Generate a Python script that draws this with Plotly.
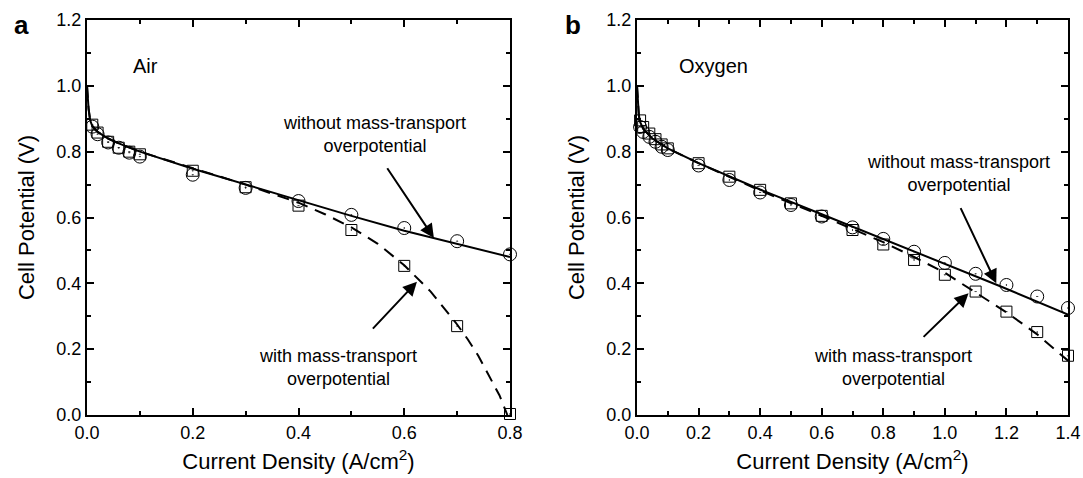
import plotly.graph_objects as go

# ---------------- data: panel a (Air) ----------------
a_pts_x = [0.01, 0.02, 0.04, 0.06, 0.08, 0.1, 0.2, 0.3, 0.4, 0.5, 0.6, 0.7, 0.8]
a_circ_y = [0.876, 0.853, 0.828, 0.812, 0.797, 0.785, 0.730, 0.690, 0.650, 0.608, 0.568, 0.528, 0.488]
a_sq_y = [0.882, 0.858, 0.830, 0.812, 0.800, 0.792, 0.742, 0.692, 0.636, 0.562, 0.453, 0.270, 0.003]

a_solid_x = [0, 0.003, 0.006, 0.01, 0.02, 0.04, 0.06, 0.1, 0.2, 0.3, 0.4, 0.5, 0.6, 0.7, 0.8]
a_solid_y = [1.0, 0.93, 0.895, 0.878, 0.86, 0.84, 0.825, 0.80, 0.748, 0.70, 0.652, 0.605, 0.56, 0.52, 0.48]

a_dash_x = [0, 0.003, 0.006, 0.01, 0.02, 0.04, 0.06, 0.1, 0.2, 0.3, 0.4, 0.45, 0.5, 0.55,
            0.6, 0.65, 0.7, 0.72, 0.74, 0.76, 0.78, 0.795]
a_dash_y = [1.0, 0.93, 0.895, 0.878, 0.86, 0.84, 0.825, 0.80, 0.75, 0.70, 0.645, 0.61, 0.57, 0.52,
            0.455, 0.375, 0.275, 0.23, 0.18, 0.12, 0.06, 0.0]

# ---------------- data: panel b (Oxygen) ----------------
b_pts_x = [0.01, 0.02, 0.04, 0.06, 0.08, 0.1, 0.2, 0.3, 0.4, 0.5, 0.6, 0.7, 0.8, 0.9, 1.0,
           1.1, 1.2, 1.3, 1.4]
b_circ_y = [0.875, 0.86, 0.845, 0.83, 0.815, 0.805, 0.758, 0.714, 0.676, 0.638, 0.603, 0.570,
            0.535, 0.496, 0.462, 0.429, 0.395, 0.360, 0.325]
b_sq_y = [0.895, 0.875, 0.855, 0.838, 0.822, 0.81, 0.765, 0.724, 0.684, 0.643, 0.605, 0.562,
          0.518, 0.471, 0.426, 0.375, 0.314, 0.252, 0.18]

b_solid_x = [0, 0.003, 0.006, 0.01, 0.02, 0.05, 0.1, 0.2, 0.4, 0.6, 0.8, 1.0, 1.17, 1.4]
b_solid_y = [1.0, 0.94, 0.91, 0.89, 0.87, 0.84, 0.81, 0.765, 0.685, 0.61, 0.535, 0.46, 0.395, 0.305]

b_dash_x = [0, 0.003, 0.006, 0.01, 0.02, 0.05, 0.1, 0.2, 0.4, 0.6, 0.8, 0.9, 1.0, 1.1, 1.2, 1.3, 1.4]
b_dash_y = [1.0, 0.94, 0.91, 0.89, 0.87, 0.84, 0.81, 0.765, 0.682, 0.605, 0.525, 0.48, 0.432,
            0.372, 0.312, 0.245, 0.165]

x_title = "Current Density (A/cm<sup>2</sup>)"
y_title = "Cell Potential (V)"

FONT = "Liberation Sans, Arial, sans-serif"
BLACK = "#000000"

fig = go.Figure()


def add_panel(xa, ya, px, cy, sy, sx, syy, dx, dyy):
    fig.add_trace(go.Scatter(x=sx, y=syy, mode="lines", line=dict(color=BLACK, width=2),
                             xaxis=xa, yaxis=ya, showlegend=False, hoverinfo="skip"))
    fig.add_trace(go.Scatter(x=dx, y=dyy, mode="lines",
                             line=dict(color=BLACK, width=2, dash="12px,8px"),
                             xaxis=xa, yaxis=ya, showlegend=False, hoverinfo="skip"))
    fig.add_trace(go.Scatter(x=px, y=cy, mode="markers",
                             marker=dict(symbol="circle-open-dot", size=13,
                                         color=BLACK, line=dict(width=1, color=BLACK)),
                             xaxis=xa, yaxis=ya, showlegend=False, cliponaxis=False))
    fig.add_trace(go.Scatter(x=px, y=sy, mode="markers",
                             marker=dict(symbol="square-open-dot", size=11,
                                         color=BLACK, line=dict(width=1, color=BLACK)),
                             xaxis=xa, yaxis=ya, showlegend=False, cliponaxis=False))


add_panel("x", "y", a_pts_x, a_circ_y, a_sq_y, a_solid_x, a_solid_y, a_dash_x, a_dash_y)
add_panel("x2", "y2", b_pts_x, b_circ_y, b_sq_y, b_solid_x, b_solid_y, b_dash_x, b_dash_y)

W, H = 1083, 478
ydom = [1 - 415 / H, 1 - 20 / H]

minor = dict(dtick=0.1, ticks="inside", ticklen=4, tickwidth=2, tickcolor=BLACK)
axis_common = dict(
    showline=True, linewidth=2, linecolor=BLACK, mirror="allticks",
    ticks="inside", ticklen=7, tickwidth=2, tickcolor=BLACK,
    showgrid=False, zeroline=False, automargin=False,
    dtick=0.2, tickformat=".1f", minor=minor,
    tickfont=dict(family=FONT, size=18, color=BLACK),
)
title_font = dict(family=FONT, size=22, color=BLACK)

fig.update_layout(
    template="none",
    width=W, height=H,
    margin=dict(l=0, r=0, t=0, b=0, autoexpand=False),
    paper_bgcolor="white", plot_bgcolor="white",
    font=dict(family=FONT, color=BLACK),
    showlegend=False,
    xaxis=dict(domain=[87 / W, 510 / W], range=[0, 0.8], anchor="y",
               title=dict(text=x_title, standoff=12, font=title_font), **axis_common),
    yaxis=dict(domain=ydom, range=[0, 1.2], anchor="x",
               title=dict(text=y_title, standoff=16, font=title_font), **axis_common),
    xaxis2=dict(domain=[637 / W, 1068 / W], range=[0, 1.4], anchor="y2",
                title=dict(text=x_title, standoff=12, font=title_font), **axis_common),
    yaxis2=dict(domain=ydom, range=[0, 1.2], anchor="x2",
                title=dict(text=y_title, standoff=16, font=title_font), **axis_common),
)

ann_font = dict(family=FONT, size=18, color=BLACK)
letter_font = dict(family=FONT, size=26, color=BLACK)
annotations = [
    # panel letters
    dict(text="<b>a</b>", x=21 / W, y=1 - 25 / H, xref="paper", yref="paper",
         xanchor="center", yanchor="middle", showarrow=False, font=letter_font),
    dict(text="<b>b</b>", x=573 / W, y=1 - 25 / H, xref="paper", yref="paper",
         xanchor="center", yanchor="middle", showarrow=False, font=letter_font),
    # gas labels
    dict(text="Air", x=0.083, y=1.06, xref="x", yref="y", xanchor="left", yanchor="middle",
         showarrow=False, font=dict(family=FONT, size=20, color=BLACK)),
    dict(text="Oxygen", x=0.13, y=1.06, xref="x2", yref="y2", xanchor="left", yanchor="middle",
         showarrow=False, font=dict(family=FONT, size=20, color=BLACK)),
    # panel a texts
    dict(text="without mass-transport<br>overpotential", x=0.544, y=0.853, xref="x", yref="y",
         xanchor="center", yanchor="middle", showarrow=False, font=ann_font),
    dict(text="with mass-transport<br>overpotential", x=0.474, y=0.145, xref="x", yref="y",
         xanchor="center", yanchor="middle", showarrow=False, font=ann_font),
    # panel b texts
    dict(text="without mass-transport<br>overpotential", x=1.044, y=0.735, xref="x2", yref="y2",
         xanchor="center", yanchor="middle", showarrow=False, font=ann_font),
    dict(text="with mass-transport<br>overpotential", x=0.831, y=0.145, xref="x2", yref="y2",
         xanchor="center", yanchor="middle", showarrow=False, font=ann_font),
]

arrows = [
    ("x", "y", 0.566, 0.754, 0.656, 0.538),
    ("x", "y", 0.538, 0.258, 0.624, 0.405),
    ("x2", "y2", 1.049, 0.633, 1.167, 0.40),
    ("x2", "y2", 0.926, 0.233, 1.077, 0.37),
]
for xr, yr, tx, ty, hx, hy in arrows:
    annotations.append(dict(
        x=hx, y=hy, ax=tx, ay=ty, xref=xr, yref=yr, axref=xr, ayref=yr,
        text="", showarrow=True, arrowhead=2, arrowsize=1.4, arrowwidth=2,
        arrowcolor=BLACK, standoff=0))

fig.update_layout(annotations=annotations)

fig.write_html("out.html")
